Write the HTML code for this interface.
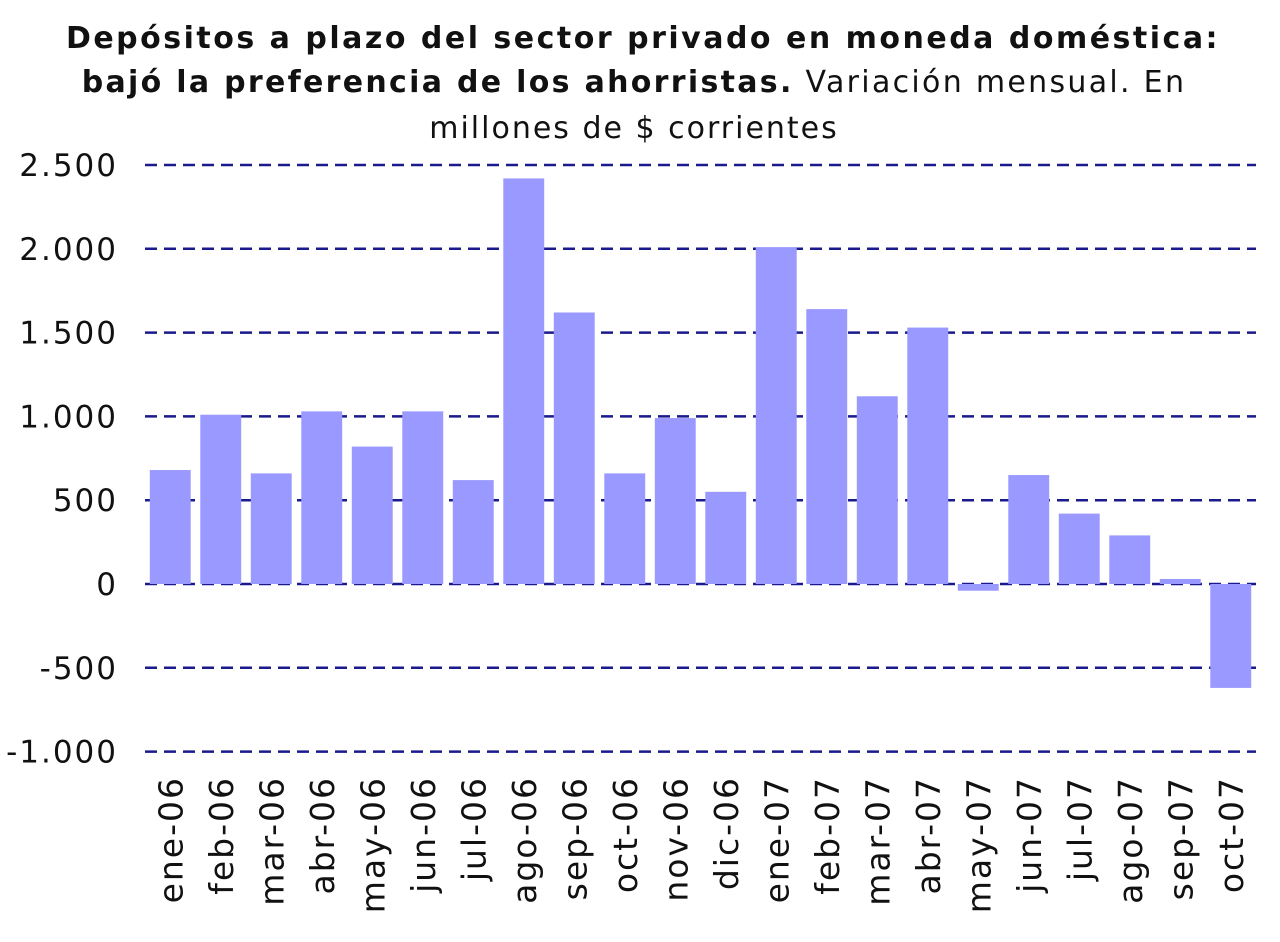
<!DOCTYPE html>
<html><head><meta charset="utf-8"><style>
html,body{margin:0;padding:0;background:#fff;width:1280px;height:942px;overflow:hidden}
svg{display:block;font-family:"DejaVu Sans","Liberation Sans",sans-serif}
</style></head><body>
<svg id="chart" width="1280" height="942">
<text x="643" y="48" text-anchor="middle" font-size="30" font-weight="bold" letter-spacing="2.5" fill="#111">Depósitos a plazo del sector privado en moneda doméstica:</text>
<text x="634" y="92" text-anchor="middle" font-size="30" letter-spacing="2.3" fill="#111"><tspan font-weight="bold">bajó la preferencia de los ahorristas.</tspan> Variación mensual. En</text>
<text x="634" y="138" text-anchor="middle" font-size="30" letter-spacing="2" fill="#111">millones de $ corrientes</text>
<g id="grid"></g><g id="bars"></g><g id="xlabels"></g>
</svg>
<script>
const categories=["ene-06","feb-06","mar-06","abr-06","may-06","jun-06","jul-06","ago-06","sep-06","oct-06","nov-06","dic-06","ene-07","feb-07","mar-07","abr-07","may-07","jun-07","jul-07","ago-07","sep-07","oct-07"];
const values=[680,1010,660,1030,820,1030,620,2420,1620,660,990,550,2010,1640,1120,1530,-40,650,420,290,30,-620];
const yTicks=[2500,2000,1500,1000,500,0,-500,-1000];
const yTickLabels=["2.500","2.000","1.500","1.000","500","0","-500","-1.000"];
const NS="http://www.w3.org/2000/svg";
const x0=145,x1=1256;
function y(v){return 584-v*0.1676;}
const step=(x1-x0)/categories.length;
function x(i){return x0+i*step;}
const grid=document.getElementById('grid'),bars=document.getElementById('bars'),xl=document.getElementById('xlabels');
yTicks.forEach((t,i)=>{
 const l=document.createElementNS(NS,'line');
 l.setAttribute('x1',x0);l.setAttribute('x2',x1);l.setAttribute('y1',y(t));l.setAttribute('y2',y(t));
 l.setAttribute('stroke','#1a1a8c');l.setAttribute('stroke-width','2.5');l.setAttribute('stroke-dasharray','12,7');
 
 
 grid.appendChild(l);
 const tx=document.createElementNS(NS,'text');
 tx.setAttribute('x',118);tx.setAttribute('y',y(t)+11);tx.setAttribute('text-anchor','end');tx.setAttribute('font-size','31');tx.setAttribute('letter-spacing','2');tx.setAttribute('fill','#111');
 tx.textContent=yTickLabels[i];
 
 
 grid.appendChild(tx);
});
const bw=step*0.81;
categories.forEach((c,i)=>{
 const v=values[i];
 const r=document.createElementNS(NS,'rect');
 const cx=x(i)+step/2;
 r.setAttribute('x',cx-bw/2);r.setAttribute('width',bw);
 r.setAttribute('y',Math.min(y(v),y(0)));r.setAttribute('height',Math.abs(y(v)-y(0)));
 r.setAttribute('fill','#9999ff');
 
 
 bars.appendChild(r);
 const t=document.createElementNS(NS,'text');
 t.setAttribute('transform','translate('+(cx+12)+',776) rotate(-90)');
 t.setAttribute('text-anchor','end');t.setAttribute('font-size','33');t.setAttribute('letter-spacing','2');t.setAttribute('fill','#111');
 t.textContent=c;
 
 
 xl.appendChild(t);
});
</script>
</body></html>
